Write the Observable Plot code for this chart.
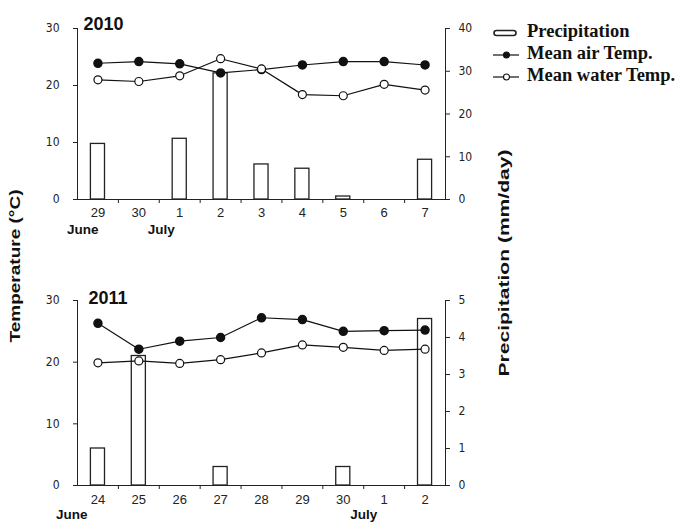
<!DOCTYPE html>
<html><head><meta charset="utf-8">
<script src="https://cdn.jsdelivr.net/npm/d3@7"></script>
<script src="https://cdn.jsdelivr.net/npm/@observablehq/plot@0.6"></script>
<style>
body{margin:0;background:#fff}
#wrap{position:relative;width:677px;height:528px;background:#fff;overflow:hidden}
#wrap svg{position:absolute;left:0}
</style></head><body><div id="wrap"></div>
<script>
// ---- data ----
const days2010 = ["29","30","1","2","3","4","5","6","7"];
const precip2010 = [13.0, 0, 14.2, 29.5, 8.2, 7.2, 0.7, 0, 9.3];
const air2010 = [23.9, 24.2, 23.8, 22.2, 22.8, 23.6, 24.2, 24.2, 23.6];
const water2010 = [21.0, 20.7, 21.7, 24.7, 22.9, 18.4, 18.2, 20.2, 19.2];

const days2011 = ["24","25","26","27","28","29","30","1","2"];
const precip2011 = [1.0, 3.5, 0, 0.5, 0, 0, 0.5, 0, 4.5];
const air2011 = [26.3, 22.1, 23.4, 24.0, 27.2, 26.9, 25.0, 25.1, 25.2];
const water2011 = [19.9, 20.2, 19.8, 20.4, 21.5, 22.8, 22.4, 21.9, 22.1];

const tempTicks = [0, 10, 20, 30];
const precipTicks2010 = [0, 10, 20, 30, 40];
const precipTicks2011 = [0, 1, 2, 3, 4, 5];
const juneDay2010 = "29", julyDay2010 = "1";
const juneDay2011 = "24", julyDay2011 = "1";
const legendItems = ["Precipitation", "Mean air Temp.", "Mean water Temp."];
const yLabelLeft = "Temperature (°C)";
const yLabelRight = "Precipitation (mm/day)";

const FONT = "'Liberation Sans Narrow','DejaVu Sans Condensed','Liberation Sans',Arial,sans-serif";
const SANS = "'Liberation Sans',Arial,sans-serif";
const W = 677, ML = 77, MR = 232;

function panel(o) {
  const k = 30 / o.precipMax;
  const rows = o.days.map((d, i) => ({day: d, precip: o.precip[i] * k, air: o.air[i], water: o.water[i]}));
  const bw = (W - ML - MR) / o.days.length;
  const svg = Plot.plot({
    width: W, height: o.height,
    marginLeft: ML, marginRight: MR, marginTop: o.marginTop, marginBottom: o.marginBottom,
    style: {fontFamily: FONT, fontSize: "12px", color: "#222", background: "transparent", overflow: "visible"},
    x: {type: "band", domain: o.days, padding: 0, round: false},
    y: {domain: [0, 30]},
    marks: [
      Plot.barY(rows, {x: "day", y: "precip", fill: "white", stroke: "#222", strokeWidth: 1.3, insetLeft: 13.4, insetRight: 13.4}),
      Plot.line(rows, {x: "day", y: "air", stroke: "#111", strokeWidth: 1.2}),
      Plot.line(rows, {x: "day", y: "water", stroke: "#111", strokeWidth: 1.2}),
      Plot.dot(rows, {x: "day", y: "air", r: 4, fill: "#111", stroke: "#111"}),
      Plot.dot(rows, {x: "day", y: "water", r: 4, fill: "white", stroke: "#111", strokeWidth: 1.2}),
      Plot.frame({anchor: "left", stroke: "#222"}),
      Plot.frame({anchor: "right", stroke: "#222"}),
      Plot.frame({anchor: "bottom", stroke: "#222"}),
      Plot.axisY(tempTicks, {anchor: "left", tickSize: 4, tickPadding: 14, label: null}),
      Plot.axisY(o.precipTicks.map(v => v * k), {anchor: "right", tickSize: 4, tickPadding: 9, label: null, tickFormat: v => String(Math.round(v / k))}),
      Plot.axisX({anchor: "bottom", tickSize: 0, tickPadding: o.xPad, label: null, fontSize: 13, fontFamily: SANS}),
      Plot.axisX(o.days.slice(1), {anchor: "bottom", tickSize: 4, tickFormat: () => "", dx: -bw / 2, label: null}),
      Plot.text([o.title], {frameAnchor: "top-left", dx: o.titleDx, dy: o.titleDy, textAnchor: "start", fontWeight: "bold", fontSize: 18, fontFamily: SANS, fill: "#111"}),
      Plot.text([o.june], {x: d => d, text: () => "June", frameAnchor: "bottom", dy: o.monthDy, dx: o.juneDx, textAnchor: "start", fontWeight: "bold", fontSize: 13.5, fontFamily: SANS, fill: "#111"}),
      Plot.text([o.july], {x: d => d, text: () => "July", frameAnchor: "bottom", dy: o.monthDy, dx: o.julyDx - bw / 2, textAnchor: "middle", fontWeight: "bold", fontSize: 13.5, fontFamily: SANS, fill: "#111"})
    ]
  });
  svg.style.top = o.top + "px";
  return svg;
}

const wrap = document.getElementById("wrap");
wrap.appendChild(panel({
  days: days2010, precip: precip2010, air: air2010, water: water2010,
  precipMax: 40, precipTicks: precipTicks2010, title: "2010",
  top: 0, height: 250, marginTop: 28, marginBottom: 51, xPad: 8,
  titleDx: 6, titleDy: -11, june: juneDay2010, july: julyDay2010, juneDx: -31, julyDx: 2, monthDy: 34
}));
wrap.appendChild(panel({
  days: days2011, precip: precip2011, air: air2011, water: water2011,
  precipMax: 5, precipTicks: precipTicks2011, title: "2011",
  top: 250, height: 278, marginTop: 50, marginBottom: 43, xPad: 9,
  titleDx: 11, titleDy: -9.5, june: juneDay2011, july: julyDay2011, juneDx: -42, julyDx: 0, monthDy: 33
}));

// overlay: axis titles + legend
const ov = d3.create("svg").attr("width", W).attr("height", 528).style("top", "0px").style("pointer-events", "none");
ov.append("text").attr("transform", "translate(16,266) rotate(-90)")
  .attr("text-anchor", "middle").attr("dominant-baseline", "middle")
  .attr("font-family", SANS).attr("font-weight", "bold").attr("font-size", 15).attr("fill", "#111")
  .attr("textLength", 153).attr("lengthAdjust", "spacingAndGlyphs").text(yLabelLeft);
ov.append("text").attr("transform", "translate(505,263) rotate(-90)")
  .attr("text-anchor", "middle").attr("dominant-baseline", "middle")
  .attr("font-family", SANS).attr("font-weight", "bold").attr("font-size", 15).attr("fill", "#111")
  .attr("textLength", 227).attr("lengthAdjust", "spacingAndGlyphs").text(yLabelRight);

const lg = ov.append("g");
legendItems.forEach((name, i) => {
  const y = 33 + 22 * i;
  const g = lg.append("g").attr("transform", `translate(0,${y})`);
  if (i === 0) {
    g.append("rect").attr("x", 494).attr("y", -2.5).attr("width", 22).attr("height", 5).attr("rx", 2.5)
      .attr("fill", "white").attr("stroke", "#222").attr("stroke-width", 1.6);
  } else {
    g.append("line").attr("x1", 493).attr("x2", 519).attr("stroke", "#222").attr("stroke-width", 1.3);
    g.append("circle").attr("cx", 506.5).attr("r", 3).attr("fill", i === 1 ? "#111" : "white").attr("stroke", "#111").attr("stroke-width", 1.1);
  }
  g.append("text").attr("x", 527).attr("dominant-baseline", "middle")
    .attr("font-family", "'Liberation Serif','Times New Roman',serif").attr("font-weight", "bold")
    .attr("font-size", 18.5).attr("fill", "#111").text(name);
});
wrap.appendChild(ov.node());
</script>
</body></html>
